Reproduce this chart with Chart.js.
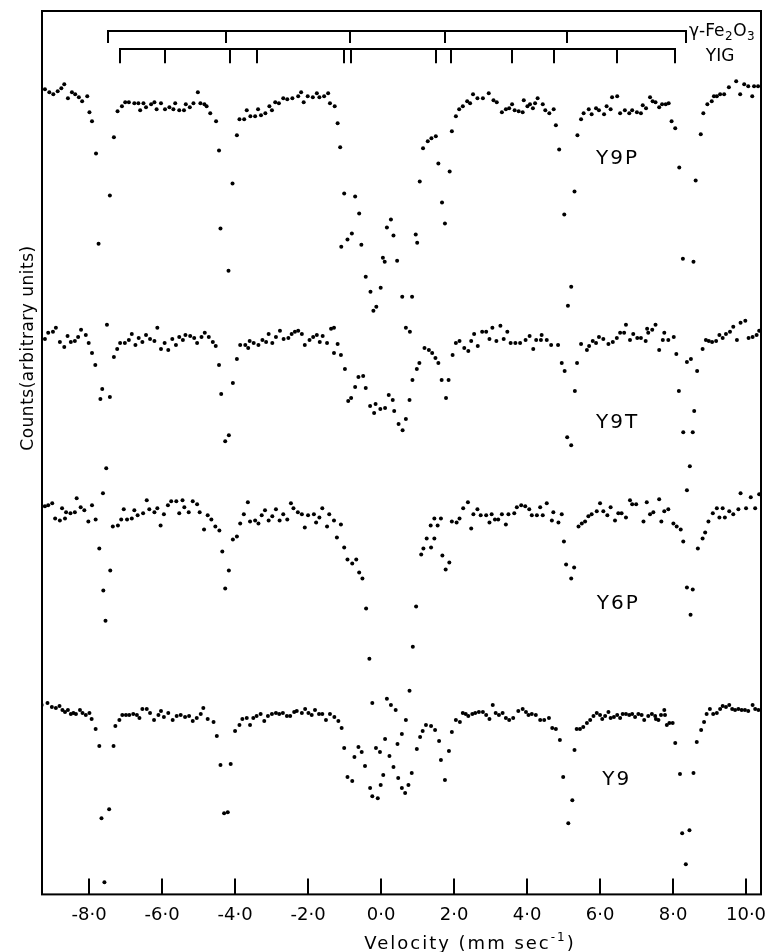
<!DOCTYPE html>
<html>
<head>
<meta charset="utf-8">
<title>Mössbauer spectra Y9P, Y9T, Y6P, Y9</title>
<script src="https://cdn.jsdelivr.net/npm/chart.js@4.4.1/dist/chart.umd.min.js"></script>
<style>
  html, body { margin: 0; padding: 0; background: #fff; }
  canvas { display: block; }
</style>
</head>
<body>
<canvas id="spectra" width="768" height="952"></canvas>
<script>
// velocity (mm/s), counts (arbitrary units)
const y9p = [[-9.21,803],[-9.09,800],[-8.98,798],[-8.86,801],[-8.76,804],[-8.68,808],[-8.58,794],[-8.47,800],[-8.38,798],[-8.28,795],[-8.19,791],[-8.05,796],[-7.99,780],[-7.92,771],[-7.81,739],[-7.74,649],[-7.51,568],[-7.43,697],[-7.32,755],[-7.22,781],[-7.10,786],[-7.01,790],[-6.91,790],[-6.76,789],[-6.65,789],[-6.60,782],[-6.51,789],[-6.44,785],[-6.30,788],[-6.21,790],[-6.15,783],[-6.03,789],[-5.92,783],[-5.80,785],[-5.69,783],[-5.64,789],[-5.53,782],[-5.40,782],[-5.35,788],[-5.24,785],[-5.14,789],[-5.02,800],[-4.95,789],[-4.84,788],[-4.78,786],[-4.68,779],[-4.52,771],[-4.44,742],[-4.40,664],[-4.18,622],[-4.07,709],[-3.95,757],[-3.88,773],[-3.75,773],[-3.68,782],[-3.58,776],[-3.45,776],[-3.37,783],[-3.29,777],[-3.17,779],[-3.06,786],[-2.99,782],[-2.90,790],[-2.80,789],[-2.68,794],[-2.57,793],[-2.43,794],[-2.27,796],[-2.19,800],[-2.12,790],[-2.01,796],[-1.87,795],[-1.76,799],[-1.69,795],[-1.56,796],[-1.45,799],[-1.40,789],[-1.27,786],[-1.19,769],[-1.12,745],[-1.09,646],[-1.01,699],[-0.92,653],[-0.80,659],[-0.71,696],[-0.60,679],[-0.54,648],[-0.42,616],[-0.29,601],[-0.21,582],[-0.13,586],[-0.01,605],[0.05,635],[0.10,631],[0.16,665],[0.27,673],[0.34,657],[0.44,632],[0.58,596],[0.68,565],[0.79,561],[0.85,596],[0.95,658],[0.99,650],[1.06,711],[1.15,744],[1.28,751],[1.38,754],[1.50,756],[1.57,729],[1.67,690],[1.75,669],[1.88,721],[1.94,761],[2.05,776],[2.14,783],[2.24,786],[2.36,791],[2.44,789],[2.52,798],[2.64,794],[2.79,794],[2.95,799],[3.08,792],[3.17,790],[3.31,780],[3.42,783],[3.51,784],[3.59,788],[3.66,782],[3.77,781],[3.88,780],[3.91,792],[4.01,786],[4.08,788],[4.16,784],[4.22,789],[4.29,794],[4.43,788],[4.50,782],[4.61,779],[4.73,783],[4.79,767],[4.88,743],[5.02,678],[5.12,587],[5.21,606],[5.30,701],[5.38,757],[5.48,773],[5.55,779],[5.69,783],[5.77,778],[5.89,784],[5.97,782],[6.11,778],[6.18,786],[6.29,783],[6.33,795],[6.47,796],[6.55,779],[6.68,782],[6.80,779],[6.88,782],[7.01,780],[7.12,779],[7.17,787],[7.26,784],[7.37,795],[7.44,791],[7.52,790],[7.62,785],[7.70,788],[7.80,788],[7.88,789],[7.96,771],[8.06,764],[8.17,725],[8.27,634],[8.38,531],[8.49,534],[8.56,631],[8.62,712],[8.76,758],[8.83,779],[8.94,788],[9.06,791],[9.12,796],[9.20,796],[9.29,798],[9.40,798],[9.53,805],[9.73,811],[9.84,798],[9.95,808],[10.06,806],[10.17,796],[10.22,806],[10.33,806]];

const y9t = [[-9.21,554],[-9.12,560],[-8.99,561],[-8.91,565],[-8.80,551],[-8.68,546],[-8.59,557],[-8.50,551],[-8.39,552],[-8.30,556],[-8.22,563],[-8.09,558],[-8.01,550],[-7.92,540],[-7.83,528],[-7.69,494],[-7.64,504],[-7.62,400],[-7.53,425],[-7.43,496],[-7.32,536],[-7.23,544],[-7.15,550],[-7.02,550],[-6.91,553],[-6.83,559],[-6.73,548],[-6.64,555],[-6.54,551],[-6.44,558],[-6.33,554],[-6.21,552],[-6.13,565],[-6.03,544],[-5.93,550],[-5.83,543],[-5.72,554],[-5.62,548],[-5.53,556],[-5.43,553],[-5.36,558],[-5.23,557],[-5.12,555],[-5.04,550],[-4.92,556],[-4.83,560],[-4.72,556],[-4.61,551],[-4.53,547],[-4.44,528],[-4.38,499],[-4.27,452],[-4.17,458],[-4.06,510],[-3.95,534],[-3.86,548],[-3.72,548],[-3.64,545],[-3.60,552],[-3.49,550],[-3.36,548],[-3.25,553],[-3.15,551],[-3.08,559],[-2.98,550],[-2.88,556],[-2.77,562],[-2.67,554],[-2.54,555],[-2.45,559],[-2.36,561],[-2.27,562],[-2.17,559],[-2.09,548],[-1.96,553],[-1.86,556],[-1.76,558],[-1.68,551],[-1.60,557],[-1.48,550],[-1.37,564],[-1.29,565],[-1.29,540],[-1.19,549],[-1.10,538],[-0.99,524],[-0.90,492],[-0.82,495],[-0.71,506],[-0.62,516],[-0.49,517],[-0.42,505],[-0.30,487],[-0.19,480],[-0.15,489],[-0.02,484],[0.11,485],[0.21,498],[0.32,493],[0.36,482],[0.48,469],[0.59,463],[0.68,474],[0.78,493],[0.86,513],[0.98,524],[1.05,530],[1.19,545],[1.31,543],[1.40,540],[1.49,535],[1.57,530],[1.66,513],[1.78,495],[1.85,513],[1.96,538],[2.05,550],[2.15,552],[2.28,545],[2.39,542],[2.47,552],[2.55,559],[2.65,547],[2.77,561],[2.88,561],[2.97,554],[3.05,565],[3.16,552],[3.27,567],[3.36,554],[3.46,561],[3.55,550],[3.68,550],[3.81,550],[3.96,553],[4.07,557],[4.17,544],[4.25,553],[4.38,553],[4.40,558],[4.54,553],[4.66,548],[4.85,548],[4.95,530],[5.03,522],[5.10,456],[5.21,448],[5.31,502],[5.37,530],[5.48,549],[5.64,543],[5.70,547],[5.80,552],[5.89,550],[5.97,556],[6.09,554],[6.23,549],[6.35,551],[6.46,555],[6.55,560],[6.66,560],[6.71,568],[6.82,553],[6.91,559],[7.02,555],[7.12,555],[7.25,552],[7.29,564],[7.32,560],[7.43,563],[7.52,568],[7.62,543],[7.72,553],[7.76,560],[7.87,553],[8.02,556],[8.09,539],[8.16,502],[8.28,461],[8.38,403],[8.46,427],[8.54,461],[8.58,482],[8.66,522],[8.81,544],[8.90,553],[8.98,552],[9.07,551],[9.18,552],[9.27,558],[9.36,555],[9.45,559],[9.56,561],[9.65,566],[9.75,553],[9.85,570],[9.98,572],[10.07,555],[10.18,556],[10.29,558],[10.36,562]];

const y6p = [[-9.30,387],[-9.21,387],[-9.12,388],[-9.01,390],[-8.93,375],[-8.80,373],[-8.74,385],[-8.63,381],[-8.66,375],[-8.51,380],[-8.39,381],[-8.34,395],[-8.23,386],[-8.13,383],[-8.02,372],[-7.92,388],[-7.82,374],[-7.72,345],[-7.61,303],[-7.55,273],[-7.42,323],[-7.35,367],[-7.21,368],[-7.12,374],[-7.05,384],[-6.96,374],[-6.83,375],[-6.76,383],[-6.67,378],[-6.52,380],[-6.42,393],[-6.35,384],[-6.21,381],[-6.13,385],[-6.04,368],[-5.95,379],[-5.84,388],[-5.75,392],[-5.61,392],[-5.53,380],[-5.44,393],[-5.39,386],[-5.27,381],[-5.16,392],[-5.04,389],[-4.97,381],[-4.85,364],[-4.75,378],[-4.65,374],[-4.54,367],[-4.43,363],[-4.35,342],[-4.27,305],[-4.17,323],[-4.06,354],[-3.95,357],[-3.86,370],[-3.76,379],[-3.65,391],[-3.59,372],[-3.45,373],[-3.36,370],[-3.27,378],[-3.18,383],[-3.08,373],[-2.98,377],[-2.88,384],[-2.78,373],[-2.68,379],[-2.57,374],[-2.47,390],[-2.40,385],[-2.28,381],[-2.17,379],[-2.09,366],[-2.00,378],[-1.84,379],[-1.78,371],[-1.69,376],[-1.61,385],[-1.48,367],[-1.42,379],[-1.29,373],[-1.21,356],[-1.10,369],[-1.01,346],[-0.92,334],[-0.79,330],[-0.68,334],[-0.60,321],[-0.51,315],[-0.41,285],[-0.32,235],[-0.24,191],[-0.14,146],[-0.03,142],[0.11,155],[0.16,195],[0.27,189],[0.40,184],[0.45,150],[0.57,160],[0.68,174],[0.78,203],[0.87,247],[0.96,287],[1.10,339],[1.16,345],[1.25,355],[1.36,368],[1.37,346],[1.46,355],[1.46,375],[1.55,368],[1.64,375],[1.68,338],[1.77,324],[1.87,331],[1.94,372],[2.07,371],[2.15,375],[2.25,385],[2.38,391],[2.47,365],[2.53,379],[2.64,384],[2.73,378],[2.88,378],[2.97,371],[3.03,379],[3.12,374],[3.21,374],[3.31,379],[3.42,369],[3.49,379],[3.65,380],[3.72,386],[3.84,388],[3.95,387],[4.06,384],[4.13,378],[4.27,378],[4.36,386],[4.43,378],[4.54,390],[4.68,373],[4.72,381],[4.86,371],[4.95,379],[5.01,352],[5.07,329],[5.21,315],[5.29,326],[5.41,367],[5.50,370],[5.59,372],[5.68,377],[5.77,379],[5.91,382],[6.00,390],[6.09,382],[6.20,378],[6.29,386],[6.41,373],[6.50,380],[6.59,380],[6.71,376],[6.82,393],[6.88,389],[6.99,389],[7.19,372],[7.28,391],[7.37,379],[7.46,381],[7.62,394],[7.68,372],[7.76,382],[7.87,384],[8.01,370],[8.10,367],[8.21,364],[8.28,352],[8.38,306],[8.48,279],[8.54,304],[8.68,345],[8.81,355],[8.88,361],[8.97,372],[9.09,380],[9.20,385],[9.27,376],[9.36,385],[9.42,376],[9.54,382],[9.65,379],[9.79,384],[9.85,400],[10.00,385],[10.13,396],[10.25,385],[10.36,399]];

const y9 = [[-9.30,189],[-9.14,191],[-9.02,187],[-8.91,186],[-8.81,188],[-8.73,184],[-8.66,182],[-8.58,184],[-8.50,180],[-8.43,181],[-8.36,180],[-8.25,184],[-8.18,181],[-8.09,179],[-7.99,181],[-7.93,175],[-7.82,165],[-7.72,148],[-7.66,76],[-7.58,12],[-7.45,85],[-7.33,148],[-7.28,168],[-7.17,174],[-7.09,179],[-6.99,179],[-6.90,179],[-6.79,180],[-6.69,179],[-6.62,176],[-6.54,185],[-6.42,185],[-6.33,181],[-6.22,174],[-6.10,179],[-6.03,183],[-5.95,177],[-5.83,181],[-5.71,174],[-5.60,178],[-5.49,179],[-5.37,177],[-5.26,178],[-5.16,173],[-5.05,176],[-4.94,180],[-4.87,186],[-4.75,175],[-4.59,172],[-4.50,158],[-4.40,129],[-4.30,81],[-4.20,82],[-4.12,130],[-4.00,163],[-3.88,169],[-3.80,175],[-3.68,176],[-3.59,169],[-3.50,176],[-3.41,178],[-3.30,180],[-3.20,173],[-3.10,178],[-2.99,180],[-2.88,181],[-2.79,180],[-2.69,181],[-2.58,178],[-2.49,178],[-2.38,182],[-2.31,183],[-2.17,181],[-2.08,185],[-1.99,181],[-1.90,179],[-1.81,184],[-1.70,180],[-1.61,180],[-1.51,174],[-1.40,180],[-1.28,177],[-1.17,173],[-1.08,166],[-1.01,146],[-0.92,117],[-0.79,113],[-0.73,137],[-0.62,147],[-0.53,142],[-0.44,128],[-0.30,106],[-0.24,98],[-0.09,96],[-0.01,109],[0.06,119],[0.23,138],[0.34,127],[0.47,116],[0.57,106],[0.66,101],[0.75,109],[0.84,121],[0.98,145],[1.07,157],[1.14,163],[1.23,169],[1.37,168],[1.48,164],[1.59,153],[1.64,134],[1.75,114],[1.86,143],[1.94,162],[2.05,174],[2.16,172],[2.24,181],[2.32,180],[2.39,178],[2.50,180],[2.58,181],[2.68,182],[2.79,182],[2.88,179],[2.97,175],[3.06,189],[3.14,181],[3.23,179],[3.33,181],[3.42,176],[3.51,174],[3.62,176],[3.76,183],[3.88,185],[3.97,182],[4.04,179],[4.13,180],[4.24,179],[4.36,174],[4.47,174],[4.60,176],[4.69,166],[4.79,165],[4.90,154],[4.99,117],[5.13,71],[5.24,94],[5.30,144],[5.36,165],[5.45,165],[5.54,167],[5.64,171],[5.73,174],[5.82,178],[5.91,181],[6.00,179],[6.06,175],[6.14,178],[6.23,182],[6.29,176],[6.38,177],[6.47,179],[6.55,176],[6.62,180],[6.71,180],[6.80,179],[6.88,180],[6.96,177],[7.05,180],[7.14,179],[7.21,174],[7.32,178],[7.42,180],[7.51,178],[7.53,175],[7.60,174],[7.67,179],[7.76,184],[7.78,179],[7.83,169],[7.90,171],[7.99,171],[8.06,151],[8.19,120],[8.25,61],[8.35,30],[8.45,64],[8.56,121],[8.65,152],[8.77,164],[8.85,172],[8.92,180],[9.01,185],[9.10,180],[9.20,181],[9.29,185],[9.36,188],[9.45,187],[9.54,189],[9.62,185],[9.70,184],[9.79,185],[9.88,184],[9.97,184],[10.06,183],[10.18,189],[10.25,185],[10.34,184]];

const sampleNames = ["Y9P", "Y9T", "Y6P", "Y9"];
const sampleNameAt = [[6.48, 734], [6.48, 470], [6.50, 290], [6.46, 114]];
const xTicks = [-8, -6, -4, -2, 0, 2, 4, 6, 8, 10];
// line positions marked along the top (mm/s)
const fe2o3Lines = [-7.49, -4.25, -0.85, 1.75, 5.10, 8.36];
const yigLines = [-7.15, -5.92, -4.14, -3.41, -1.01, -0.82, 1.51, 1.92, 3.59, 4.73, 6.47, 8.05];

const FONT = "'DejaVu Sans', 'Liberation Sans', sans-serif";
Chart.defaults.font.family = FONT;
Chart.defaults.color = "#000";

const toXY = (pairs) => pairs.map(([x, y]) => ({ x: x, y: y }));

const figureMarks = {
  id: "figureMarks",
  afterDraw(chart) {
    const { ctx, chartArea: a, scales: { x, y } } = chart;
    ctx.save();
    ctx.strokeStyle = "#000";
    ctx.fillStyle = "#000";
    ctx.lineWidth = 2;
    ctx.lineCap = "butt";

    // frame
    ctx.strokeRect(a.left, a.top, a.right - a.left, a.bottom - a.top);

    // inward ticks on velocity axis
    ctx.beginPath();
    xTicks.forEach((v) => {
      const px = Math.round(x.getPixelForValue(v));
      ctx.moveTo(px, a.bottom);
      ctx.lineTo(px, a.bottom - 16);
    });
    ctx.stroke();

    // line-position brackets
    const bracket = (lines, top, foot) => {
      const yTop = y.getPixelForValue(top);
      const yFoot = y.getPixelForValue(foot);
      const xs = lines.map((v) => Math.round(x.getPixelForValue(v)));
      ctx.beginPath();
      ctx.moveTo(xs[0], yTop);
      ctx.lineTo(xs[xs.length - 1], yTop);
      xs.forEach((px) => { ctx.moveTo(px, yTop - 1); ctx.lineTo(px, yFoot); });
      ctx.stroke();
      return xs[xs.length - 1];
    };
    const feEnd = bracket(fe2o3Lines, 861, 849);
    bracket(yigLines, 843, 829);

    // gamma-Fe2O3 label with subscripts
    ctx.textAlign = "left";
    ctx.textBaseline = "alphabetic";
    let tx = feEnd + 3;
    const base = y.getPixelForValue(856);
    const parts = [["γ-Fe", 17, 0], ["2", 12, 4], ["O", 17, 0], ["3", 12, 4]];
    parts.forEach(([t, size, drop]) => {
      ctx.font = size + "px " + FONT;
      ctx.fillText(t, tx, base + drop);
      tx += ctx.measureText(t).width + 0.5;
    });
    ctx.font = "17px " + FONT;
    ctx.textAlign = "center";
    ctx.fillText("YIG", x.getPixelForValue(9.29), y.getPixelForValue(831));

    // sample names
    ctx.font = "20px " + FONT;
    ctx.textBaseline = "middle";
    if ("letterSpacing" in ctx) ctx.letterSpacing = "2px";
    sampleNames.forEach((name, i) => {
      const [v, c] = sampleNameAt[i];
      ctx.fillText(name, x.getPixelForValue(v), y.getPixelForValue(c));
    });

    // axis titles
    ctx.font = "17px " + FONT;
    if ("letterSpacing" in ctx) ctx.letterSpacing = "0.5px";
    ctx.save();
    ctx.translate(29, 348);
    ctx.rotate(-Math.PI / 2);
    ctx.textAlign = "center";
    ctx.fillText("Counts(arbitrary units)", 0, 0);
    ctx.restore();

    if ("letterSpacing" in ctx) ctx.letterSpacing = "2px";
    ctx.textAlign = "left";
    ctx.textBaseline = "alphabetic";
    const main = "Velocity (mm sec";
    ctx.font = "18px " + FONT;
    const wMain = ctx.measureText(main).width;
    ctx.font = "12px " + FONT;
    const wSup = ctx.measureText("-1").width;
    ctx.font = "18px " + FONT;
    const wEnd = ctx.measureText(")").width;
    let sx = 470 - (wMain + wSup + wEnd) / 2;
    ctx.fillText(main, sx, 949);
    sx += wMain;
    ctx.font = "12px " + FONT;
    ctx.fillText("-1", sx, 941);
    sx += wSup;
    ctx.font = "18px " + FONT;
    ctx.fillText(")", sx, 949);
    ctx.restore();
  }
};

const dotStyle = {
  showLine: false,
  pointRadius: 2,
  pointHoverRadius: 2,
  pointBackgroundColor: "#000",
  pointBorderWidth: 0,
  pointStyle: "circle"
};

new Chart(document.getElementById("spectra").getContext("2d"), {
  type: "scatter",
  data: {
    datasets: [
      Object.assign({ label: "Y9P", data: toXY(y9p) }, dotStyle),
      Object.assign({ label: "Y9T", data: toXY(y9t) }, dotStyle),
      Object.assign({ label: "Y6P", data: toXY(y6p) }, dotStyle),
      Object.assign({ label: "Y9", data: toXY(y9) }, dotStyle)
    ]
  },
  options: {
    responsive: false,
    animation: false,
    devicePixelRatio: 1,
    layout: { padding: { left: 42, right: 7, top: 11, bottom: 16 } },
    plugins: {
      legend: { display: false },
      tooltip: { enabled: false }
    },
    scales: {
      x: {
        type: "linear",
        min: -9.29,
        max: 10.41,
        afterBuildTicks: (scale) => { scale.ticks = xTicks.map((v) => ({ value: v })); },
        afterFit: (scale) => { scale.paddingLeft = 0; scale.paddingRight = 0; },
        grid: { display: false, drawTicks: false },
        border: { display: false },
        ticks: {
          autoSkip: false,
          maxRotation: 0,
          padding: 10,
          color: "#000",
          font: { size: 18 },
          callback: (v) => Number(v).toFixed(1).replace(".", "·")
        }
      },
      y: {
        type: "linear",
        display: false,
        min: 0,
        max: 881
      }
    }
  },
  plugins: [figureMarks]
});
</script>
</body>
</html>
